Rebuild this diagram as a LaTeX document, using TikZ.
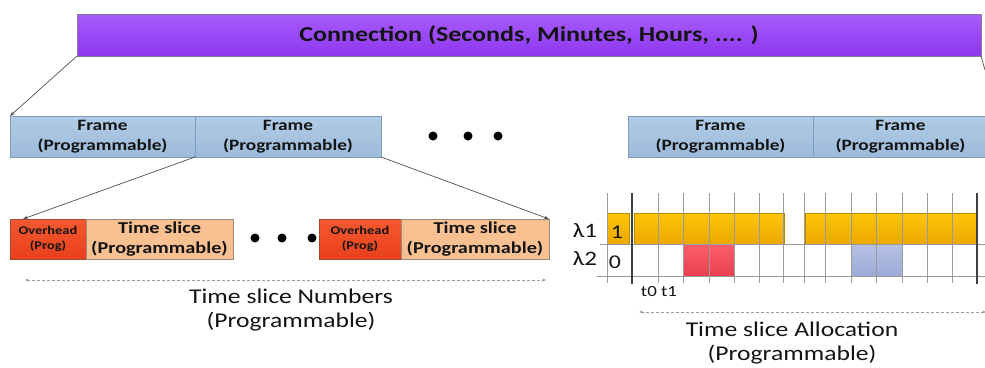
\documentclass[tikz,border=0pt]{standalone}
\usepackage{fontspec}
\setmainfont{Carlito}[FakeStretch=1.22]
\usetikzlibrary{arrows.meta,calc}
\definecolor{purpleTop}{HTML}{A65CFA}
\definecolor{purpleBot}{HTML}{8E36F0}
\definecolor{purpleEdge}{HTML}{8A7A9A}
\definecolor{frameTop}{HTML}{B0CCE6}
\definecolor{frameBot}{HTML}{9DBADA}
\definecolor{frameEdge}{HTML}{7E9CBB}
\definecolor{ohTop}{HTML}{F6582F}
\definecolor{ohBot}{HTML}{E8401C}
\definecolor{ohEdge}{HTML}{9E4A34}
\definecolor{peach}{HTML}{F9C092}
\definecolor{peachEdge}{HTML}{9A8A7A}
\definecolor{orTop}{HTML}{FFC608}
\definecolor{orBot}{HTML}{EBA800}
\definecolor{orEdge}{HTML}{B88C00}
\definecolor{redTop}{HTML}{FF5E6C}
\definecolor{redBot}{HTML}{E8404F}
\definecolor{bluTop}{HTML}{B6C1E3}
\definecolor{bluBot}{HTML}{9CAAD6}
\definecolor{gridc}{HTML}{9A9A9A}
\definecolor{thickc}{HTML}{404040}
\definecolor{txt}{HTML}{141414}
\definecolor{arr}{HTML}{505050}
\begin{document}
\begin{tikzpicture}[x=1pt,y=-1pt,
  box/.style={draw, line width=0.6pt, inner sep=0pt, outer sep=0pt, anchor=north west, align=center, text=txt},
  connbox/.style={box, draw=purpleEdge, top color=purpleTop, bottom color=purpleBot, font=\bfseries\fontsize{21.3}{24}\selectfont},
  framebox/.style={box, draw=frameEdge, top color=frameTop, bottom color=frameBot, minimum height=41pt, font=\bfseries\fontsize{15.8}{19.5}\selectfont},
  ohbox/.style={box, draw=ohEdge, top color=ohTop, bottom color=ohBot, minimum height=40pt, font=\bfseries\fontsize{11.8}{15.5}\selectfont},
  tsbox/.style={box, draw=peachEdge, fill=peach, minimum height=40pt, font=\bfseries\fontsize{16.6}{20.5}\selectfont},
  orbar/.style={draw=orEdge, line width=0.5pt, top color=orTop, bottom color=orBot},
  dotc/.style={circle, fill=black, minimum size=9pt, inner sep=0pt},
  conn/.style={draw=arr, line width=0.7pt, -{Stealth[length=5pt,width=3.5pt]}},
  dash2/.style={draw=gridc, line width=0.6pt, dashed, dash pattern=on 3pt off 2pt, {Stealth[length=4pt,width=3pt]}-{Stealth[length=4pt,width=3pt]}},
  lab/.style={text=txt, font=\fontsize{21}{24.5}\selectfont, align=center},
  gridl/.style={draw=gridc, line width=0.8pt},
  thickl/.style={draw=thickc, line width=2pt}]
\useasboundingbox (0,0) rectangle (985,367);

% Connection bar
\node[connbox, minimum width=904pt, minimum height=42pt] (conn) at (77,14) {Connection (Seconds, Minutes, Hours, .... )};

% Frames left
\node[framebox, minimum width=185pt] (f1) at (10,116) {Frame\\(Programmable)};
\node[framebox, minimum width=186pt] (f2) at (195,116) {Frame\\(Programmable)};
% Frames right
\node[framebox, minimum width=185pt] (f3) at (628,116) {Frame\\(Programmable)};
\node[framebox, minimum width=175pt] (f4) at (813,116) {Frame\\(Programmable)};

% dots top
\node[dotc] (d1) at (433,136) {};
\node[dotc] (d2) at (468,136) {};
\node[dotc] (d3) at (498,136) {};

% Lower boxes
\node[ohbox, minimum width=76pt] (oh1) at (10,219) {Overhead\\(Prog)};
\node[tsbox, minimum width=147pt] (ts1) at (86,219) {Time slice\\(Programmable)};
\node[ohbox, minimum width=82pt] (oh2) at (319,219) {Overhead\\(Prog)};
\node[tsbox, minimum width=148pt] (ts2) at (401,219) {Time slice\\(Programmable)};

\node[dotc] (d4) at (255,238) {};
\node[dotc] (d5) at (282,238) {};
\node[dotc] (d6) at (312,238) {};

% connectors
\coordinate (offR) at (985,70);
\draw[conn] (conn.south west) -- (f1.north west);
\draw[draw=arr, line width=0.7pt] (conn.south east) -- (offR);
\coordinate (oh1tip) at ($(oh1.north west)+(13,0)$);
\draw[conn] (f2.south west) -- (oh1tip);
\draw[conn] (f2.south east) -- (ts2.north east);

% Dashed range arrows
\coordinate (nL) at (25,280);
\coordinate (nR) at (546,280);
\draw[dash2] (nL) -- (nR);
\node[lab] (numlab) at (291,310) {Time slice Numbers\\(Programmable)};

\coordinate (aL) at (639,312);
\coordinate (aR) at (986,312);
\draw[dash2] (aL) -- (aR);
\node[lab] (alab) at (792,343) {Time slice Allocation\\(Programmable)};

% Allocation grid: fills
\fill[orbar] (607,213) rectangle (629,244);
\fill[orbar] (634,213) rectangle (784,244);
\fill[orbar] (805,213) rectangle (977,244);
\fill[top color=redTop, bottom color=redBot] (683,244) rectangle (734,276);
\fill[top color=bluTop, bottom color=bluBot] (851,244) rectangle (902,276);
\draw[orEdge, line width=0.5pt] (607,213) rectangle (629,244);
\draw[orEdge, line width=0.5pt] (634,213) rectangle (784,244);
\draw[orEdge, line width=0.5pt] (805,213) rectangle (977,244);

% grid lines
\draw[gridl] (600,244) -- (985,244);
\draw[gridl] (597,276) -- (985,276);
\foreach \gx in {607,658,683,709,734,759,783,804,825,851,876,902,927,952}
  \draw[gridl] (\gx,193) -- (\gx,283);
\draw[thickl] (632,193) -- (632,284);
\draw[thickl] (977,193) -- (977,284);

% labels
\node[text=txt, font=\fontsize{20.5}{24}\selectfont] (l1) at (585,231) {λ1};
\node[text=txt, font=\fontsize{20.5}{24}\selectfont] (l2) at (585,259) {λ2};
\node[text=txt, font=\fontsize{19.5}{22}\selectfont] (v1) at (617,232) {1};
\node[text=txt, font=\fontsize{19.5}{22}\selectfont] (v0) at (615,262) {0};
\node[text=txt, font=\fontsize{15.5}{18}\selectfont] (tt) at (659,292) {t0 t1};
\end{tikzpicture}
\end{document}
